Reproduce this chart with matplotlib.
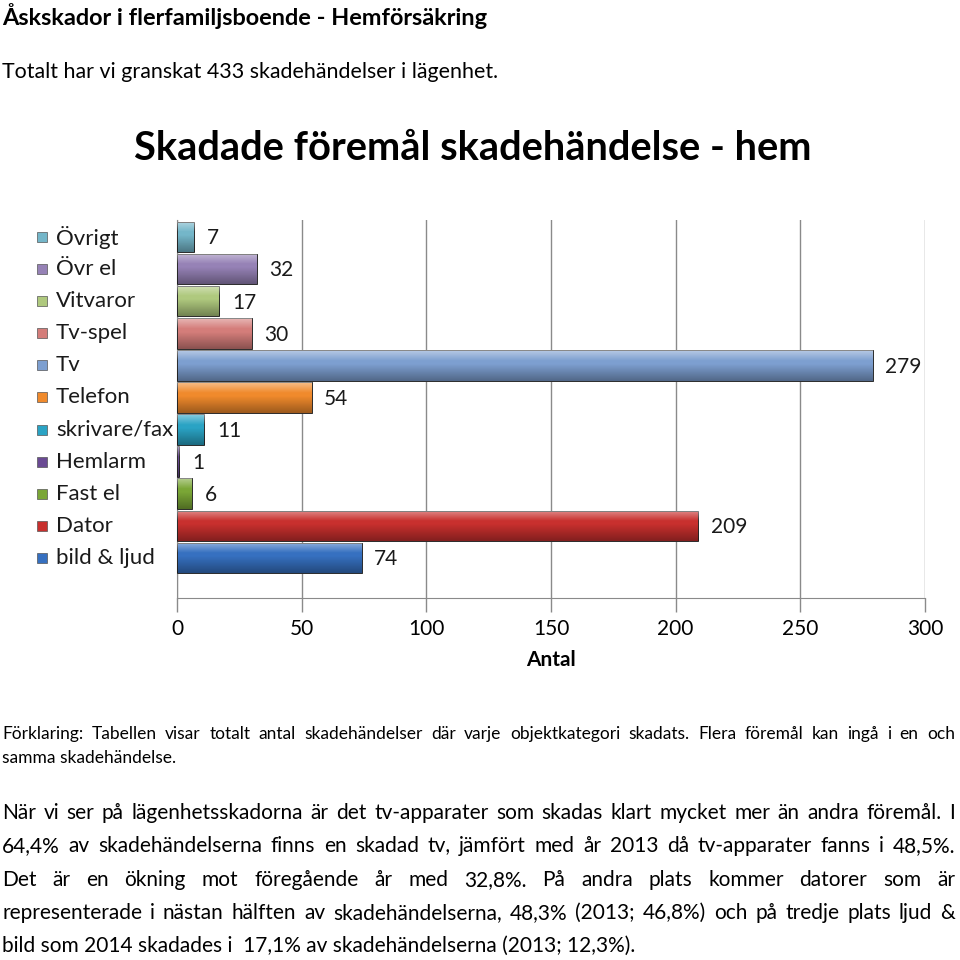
import matplotlib
matplotlib.use("Agg")
import matplotlib.pyplot as plt
import numpy as np
from matplotlib import transforms

FIG_SIZE = (9.6, 9.6)
DPI = 100
FONT = "Lato"

# --- data -------------------------------------------------------------
categories = ["Övrigt", "Övr el", "Vitvaror", "Tv-spel", "Tv", "Telefon",
              "skrivare/fax", "Hemlarm", "Fast el", "Dator", "bild & ljud"]
values = [7, 32, 17, 30, 279, 54, 11, 1, 6, 209, 74]
colors = ["#74b6c9", "#9682b6", "#afc97e", "#d47d7a", "#7d9fd0", "#f08a2c",
          "#2aa3c4", "#6a4a93", "#7aa636", "#c8302e", "#3670c0"]
x_ticks = [0, 50, 100, 150, 200, 250, 300]

page_title = "Åskskador i flerfamiljsboende - Hemförsäkring"
page_intro = "Totalt har vi granskat 433 skadehändelser i lägenhet."
chart_title = "Skadade föremål skadehändelse - hem"
x_label = "Antal"
note_lines = [
    "Förklaring: Tabellen visar totalt antal skadehändelser  där varje "
    "objektkategori skadats. Flera föremål kan ingå i en och",
    "samma skadehändelse.",
]
body_lines = [
    "När vi ser på lägenhetsskadorna är det tv-apparater som skadas klart "
    "mycket mer än andra föremål. I",
    "64,4% av skadehändelserna finns en skadad tv, jämfört med år 2013 då "
    "tv-apparater fanns i 48,5%.",
    "Det är en ökning mot föregående år med 32,8%. På andra plats kommer "
    "datorer som är",
    "representerade i nästan hälften av skadehändelserna, 48,3% (2013; "
    "46,8%) och på tredje plats ljud &",
    "bild som 2014 skadades i  17,1% av skadehändelserna (2013; 12,3%).",
]


def fy(px):
    """Figure fraction from a pixel row measured from the top."""
    return 1 - px / (FIG_SIZE[1] * DPI)


def fx(px):
    return px / (FIG_SIZE[0] * DPI)


def justified(fig, line, base_px, x0_px, x1_px, justify=True, **kw):
    """Place the words of a line so they fill the width, like the page."""
    renderer = fig.canvas.get_renderer()
    if not justify:
        fig.text(fx(x0_px), fy(base_px), line, ha="left", va="baseline",
                 **kw)
        return
    words = line.split()
    texts = [fig.text(0, fy(base_px), w, ha="left", va="baseline", **kw)
             for w in words]
    widths = [t.get_window_extent(renderer).width for t in texts]
    gap = (x1_px - x0_px - sum(widths)) / max(len(words) - 1, 1)
    pos = x0_px
    for t, w in zip(texts, widths):
        t.set_x(fx(pos))
        pos += w + gap


fig = plt.figure(figsize=FIG_SIZE, dpi=DPI, facecolor="white")

fig.text(fx(2), fy(25), page_title, fontsize=16.9, fontweight="bold",
         family=FONT, ha="left", va="baseline")
fig.text(fx(2), fy(78), page_intro, fontsize=15.4, family=FONT,
         ha="left", va="baseline")
fig.text(fx(473), fy(160), chart_title, fontsize=28.7, fontweight="bold",
         family=FONT, ha="center", va="baseline")

# --- chart ------------------------------------------------------------
ax = fig.add_axes([fx(177), fy(598), fx(925 - 177), fy(220) - fy(598)])
ypos = np.arange(len(categories))[::-1]
bar_h = 0.95
bars = ax.barh(ypos, values, height=bar_h, color=colors,
               edgecolor="#2b2b2b", linewidth=0.7, zorder=3)

# glossy shading over each bar
shade = np.zeros((64, 1, 4))
t = np.linspace(0, 1, 64)
shade[:, 0, :3] = np.where(t < 0.35, 1.0, 0.0)[:, None]
shade[:, 0, 3] = np.where(t < 0.35, 0.45 * (1 - t / 0.35),
                          0.35 * np.clip((t - 0.45) / 0.55, 0, 1))
for bar, y, v in zip(bars, ypos, values):
    im = ax.imshow(shade, extent=[0, v, y - bar_h / 2, y + bar_h / 2],
                   aspect="auto", origin="upper", zorder=4,
                   interpolation="bilinear")
    im.set_clip_path(bar)

for y, v in zip(ypos, values):
    ax.annotate(str(v), (v, y), xytext=(9, -1), textcoords="offset points",
                ha="left", va="center", fontsize=15, family=FONT,
                color="#1a1a1a")

ax.set_xlim(0, 300)
ax.set_ylim(-1.25, 10.53)
ax.set_xticks(x_ticks)
ax.set_xticklabels([str(v) for v in x_ticks], fontsize=15, family=FONT)
ax.set_yticks([])
ax.grid(axis="x", color="#8a8a8a", linewidth=1.0, zorder=0)
for side in ("top", "right"):
    ax.spines[side].set_visible(False)
ax.spines["left"].set_color("#8a8a8a")
ax.spines["bottom"].set_color("#8a8a8a")
ax.tick_params(axis="x", length=10, width=1.0, color="#8a8a8a", pad=5)
ax.set_xlabel(x_label, fontsize=15, fontweight="bold", family=FONT,
              labelpad=8)

# legend lined up with bars, left of the axes
trans = transforms.blended_transform_factory(fig.transFigure, ax.transData)
for y, name, c in zip(ypos, categories, colors):
    ax.plot([fx(42)], [y], marker="s", markersize=7.5, color=c,
            markeredgecolor="#555555", markeredgewidth=0.5,
            transform=trans, clip_on=False)
    ax.text(fx(56), y, name, transform=trans, fontsize=16, family=FONT,
            ha="left", va="center", color="#1a1a1a")

# --- text below the chart ---------------------------------------------
justified(fig, note_lines[0], 739, 2, 955, fontsize=12.5, family=FONT)
justified(fig, note_lines[1], 763, 2, 955, justify=False, fontsize=12.5,
          family=FONT)
for i, line in enumerate(body_lines):
    justified(fig, line, 819 + i * 33.3, 2, 955,
              justify=i < len(body_lines) - 1, fontsize=15, family=FONT)

fig.savefig("out.png", dpi=DPI)
